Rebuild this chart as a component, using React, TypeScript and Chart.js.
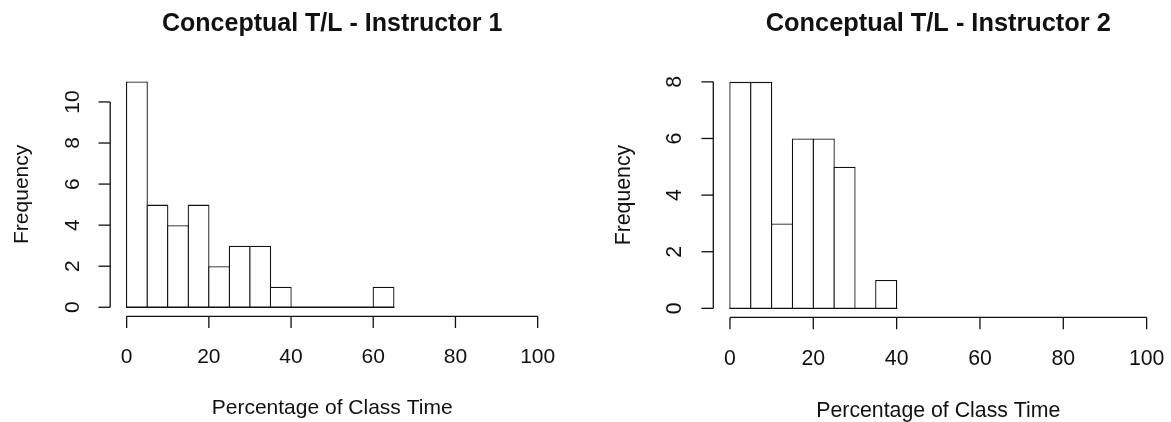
import React, { useEffect, useRef } from "react";
import { Chart, registerables } from "chart.js";

Chart.register(...registerables);

// ---------- data ----------
const BIN_WIDTH = 5;
const bins1 = [0, 5, 10, 15, 20, 25, 30, 35, 40, 45, 50, 55, 60];
const counts1 = [11, 5, 4, 5, 2, 3, 3, 1, 0, 0, 0, 0, 1];
const bins2 = [0, 5, 10, 15, 20, 25, 30, 35];
const counts2 = [8, 8, 3, 6, 6, 5, 0, 1];
const xTicks = [0, 20, 40, 60, 80, 100];
const yTicks1 = [0, 2, 4, 6, 8, 10];
const yTicks2 = [0, 2, 4, 6, 8];
const title1 = "Conceptual T/L - Instructor 1";
const title2 = "Conceptual T/L - Instructor 2";
const xTitle = "Percentage of Class Time";
const yTitle = "Frequency";

// ---------- style ----------
const INK = "#111";
const LW = 1.3;
const FONT = '"Liberation Sans", Arial, Helvetica, sans-serif';

type Panel = {
  left: number;
  width: number;
  padding: { left: number; right: number; top: number; bottom: number };
  scale: number;
  bins: number[];
  counts: number[];
  yTicks: number[];
  title: string;
};

const panels: Panel[] = [
  {
    left: 0,
    width: 585,
    padding: { left: 110.2, right: 30.9, top: 72.4, bottom: 105.7 },
    scale: 1,
    bins: bins1,
    counts: counts1,
    yTicks: yTicks1,
    title: title1,
  },
  {
    left: 585,
    width: 586,
    padding: { left: 128.3, right: 7.7, top: 72.8, bottom: 104.6 },
    scale: 1.014,
    bins: bins2,
    counts: counts2,
    yTicks: yTicks2,
    title: title2,
  },
];

function rPlugin(p: Panel) {
  return {
    id: "rStyle",
    afterDatasetsDraw(chart: any) {
      const { ctx, chartArea: a, scales } = chart;
      const x = scales.x;
      const y = scales.y;
      const k = p.scale;
      const TICK = 11.7 * k;
      const seg = (x1: number, y1: number, x2: number, y2: number) => {
        ctx.beginPath();
        ctx.moveTo(x1, y1);
        ctx.lineTo(x2, y2);
        ctx.stroke();
      };
      ctx.save();
      ctx.strokeStyle = INK;
      ctx.fillStyle = INK;
      ctx.lineWidth = LW;
      ctx.lineCap = "square";

      // baseline along bins (zero-height bins show as a line)
      const y0 = y.getPixelForValue(0);
      seg(
        x.getPixelForValue(p.bins[0]),
        y0,
        x.getPixelForValue(p.bins[p.bins.length - 1] + BIN_WIDTH),
        y0
      );
      ctx.lineCap = "butt";

      // x axis
      const xb = a.bottom;
      seg(x.getPixelForValue(xTicks[0]), xb, x.getPixelForValue(xTicks[xTicks.length - 1]), xb);
      ctx.font = `${21 * k}px ${FONT}`;
      ctx.textAlign = "center";
      ctx.textBaseline = "alphabetic";
      for (const t of xTicks) {
        const px = x.getPixelForValue(t);
        seg(px, xb, px, xb + TICK);
        ctx.fillText(String(t), px, xb + 47 * k);
      }

      // y axis
      const xl = a.left;
      const yt = p.yTicks;
      seg(xl, y.getPixelForValue(yt[0]), xl, y.getPixelForValue(yt[yt.length - 1]));
      for (const t of yt) {
        const py = y.getPixelForValue(t);
        seg(xl, py, xl - TICK, py);
        ctx.save();
        ctx.translate(xl - 31.7 * k, py);
        ctx.rotate(-Math.PI / 2);
        ctx.fillText(String(t), 0, 0);
        ctx.restore();
      }

      // axis titles
      const cx = (a.left + a.right) / 2;
      const cy = (a.top + a.bottom) / 2;
      ctx.fillText(xTitle, cx, xb + 98 * k);
      ctx.save();
      ctx.translate(xl - 82 * k, cy);
      ctx.rotate(-Math.PI / 2);
      ctx.fillText(yTitle, 0, 0);
      ctx.restore();

      // main title
      ctx.font = `bold ${25 * k}px ${FONT}`;
      ctx.fillText(p.title, cx, 30.5);
      ctx.restore();
    },
  };
}

function HistPanel({ p }: { p: Panel }) {
  const ref = useRef<HTMLCanvasElement | null>(null);
  useEffect(() => {
    if (!ref.current) return;
    const ymax = Math.max(...p.counts);
    const plotW = p.width - p.padding.left - p.padding.right;
    const binPx = (plotW / 108) * BIN_WIDTH;
    const chart = new Chart(ref.current, {
      type: "bar",
      data: {
        datasets: [
          {
            data: p.bins.map((b, i) => ({ x: b + BIN_WIDTH / 2, y: p.counts[i] })),
            backgroundColor: "#ffffff",
            borderColor: INK,
            borderWidth: LW,
            barPercentage: (binPx + LW) / binPx,
            categoryPercentage: 1,
          },
        ],
      },
      options: {
        responsive: false,
        animation: false,
        events: [],
        layout: { padding: p.padding },
        plugins: {
          legend: { display: false },
          tooltip: { enabled: false },
          title: { display: false },
        },
        scales: {
          x: {
            type: "linear",
            display: false,
            offset: false,
            grid: { offset: false },
            min: -4,
            max: 104,
            afterBuildTicks: (s: any) => {
              s.ticks = xTicks.map((v) => ({ value: v }));
            },
          },
          y: {
            type: "linear",
            display: false,
            min: -0.04 * ymax,
            max: 1.04 * ymax,
          },
        },
      },
      plugins: [rPlugin(p)],
    } as any);
    return () => chart.destroy();
  }, [p]);
  return (
    <canvas
      ref={ref}
      width={p.width}
      height={422}
      style={{ position: "absolute", left: p.left, top: 0, width: p.width, height: 422 }}
    />
  );
}

export default function App() {
  return (
    <div
      style={{
        position: "fixed",
        left: 0,
        top: 0,
        width: 1171,
        height: 422,
        background: "#fff",
        overflow: "hidden",
      }}
    >
      {panels.map((p, i) => (
        <HistPanel key={i} p={p} />
      ))}
    </div>
  );
}
